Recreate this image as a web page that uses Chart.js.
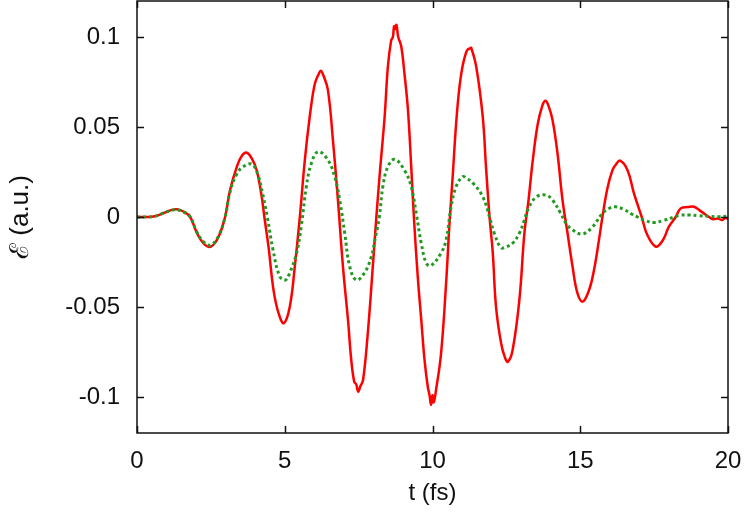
<!DOCTYPE html>
<html>
<head>
<meta charset="utf-8">
<script src="https://cdn.jsdelivr.net/npm/chart.js@4.4.1/dist/chart.umd.min.js"></script>
<style>
    html, body {margin: 0; padding: 0; background: #ffffff;}
    canvas {display: block;}
</style>
</head>
<body>
<canvas id="chart_field" width="747" height="515"></canvas>
<script>
// values: time in fs, field in a.u.
const redTimes = [
    0, 0.3, 0.6, 0.9, 1.15, 1.35, 1.6, 1.8, 2.03, 2.25, 2.5, 2.76, 2.98,
    3.15, 3.38, 3.55, 3.72, 3.9, 4.05, 4.22, 4.31, 4.45, 4.62, 4.8, 4.97,
    5.17, 5.34, 5.51, 5.68, 5.84, 6.01, 6.15, 6.22, 6.3, 6.46, 6.63, 6.8,
    6.97, 7.14, 7.25, 7.35, 7.42, 7.48, 7.56, 7.65, 7.81, 7.98, 8.1, 8.22,
    8.38, 8.49, 8.6, 8.66, 8.7, 8.74, 8.78, 8.84, 8.94, 9.05, 9.17, 9.28,
    9.37, 9.5, 9.62, 9.73, 9.84, 9.9, 9.95, 10.0, 10.04, 10.12, 10.29, 10.46,
    10.57, 10.69, 10.8, 10.91, 11.02, 11.12, 11.19, 11.27, 11.31, 11.48, 11.7, 11.81,
    11.93, 12.04, 12.15, 12.32, 12.45, 12.55, 12.71, 12.94, 13.11, 13.25,
    13.39, 13.56, 13.72, 13.82, 13.92, 14.06, 14.23, 14.4, 14.57, 14.74, 14.9,
    15.08, 15.3, 15.47, 15.64, 15.75, 15.92, 16.09, 16.2, 16.35, 16.6, 16.82,
    17.08, 17.27, 17.56, 17.8, 18.0, 18.23, 18.4, 18.65, 18.85, 19.1, 19.36,
    19.5, 19.65, 19.8, 19.9, 20,
];
const redField = [
    0, 0, 0.0004, 0.0022, 0.0038, 0.0043, 0.0028, 0, -0.009, -0.0146, -0.0165, -0.011, 0,
    0.015, 0.028, 0.034, 0.0357, 0.032, 0.026, 0.0113, 0, -0.0165, -0.0406, -0.054, -0.059,
    -0.0498, -0.0276, 0, 0.0317, 0.055, 0.0735, 0.0795, 0.0813, 0.079, 0.0706, 0.0428, 0.0094,
    -0.0276, -0.0572, -0.0794, -0.0915, -0.093, -0.097, -0.094, -0.0906, -0.0646, -0.0276, 0, 0.025,
    0.0557, 0.0835, 0.098, 0.100, 0.106, 0.1045, 0.1067, 0.100, 0.095, 0.0798, 0.0594, 0.028,
    0, -0.033, -0.0572, -0.0794, -0.0943, -0.099, -0.1044, -0.099, -0.103, -0.0961, -0.0757, -0.0368,
    -0.005, 0.0243, 0.052, 0.072, 0.084, 0.0905, 0.093, 0.0937, 0.094, 0.0835, 0.0557, 0.028,
    0, -0.020, -0.050, -0.070, -0.078, -0.0804, -0.074, -0.046, -0.009, 0.0094,
    0.031, 0.0515, 0.062, 0.0646, 0.062, 0.054, 0.0354, 0.0094, -0.009, -0.0276, -0.042,
    -0.047, -0.0405, -0.029, -0.012, 0, 0.016, 0.026, 0.029, 0.0313, 0.026, 0.013,
    0, -0.010, -0.0165, -0.0128, -0.0054, 0, 0.0048, 0.0055, 0.0057, 0.003, 0,
    -0.0012, -0.0008, -0.0017, -0.0006, -0.001,
];

const greenTimes = [
    0, 0.3, 0.6, 0.9, 1.15, 1.35, 1.6, 1.8, 2.03, 2.25, 2.5, 2.76, 2.98,
    3.15, 3.38, 3.6, 3.89, 4.1, 4.25, 4.41, 4.6, 4.83, 5.02, 5.17, 5.4,
    5.56, 5.73, 5.9, 6.13, 6.46, 6.69, 6.86, 7.03, 7.2, 7.42, 7.7, 7.93,
    8.06, 8.2, 8.32, 8.49, 8.72, 9.05, 9.28, 9.45, 9.62, 9.79, 9.95, 10.29,
    10.46, 10.63, 10.8, 11.02, 11.15, 11.36, 11.7, 11.93, 12.09, 12.32, 12.5,
    12.71, 12.94, 13.11, 13.22, 13.5, 13.84, 14.06, 14.34, 14.52, 14.74, 15.08,
    15.42, 15.75, 16.0, 16.2, 16.5, 16.75, 16.94, 17.2, 17.5, 17.8, 18.18,
    18.4, 18.7, 19.0, 19.4, 19.7, 20,
];
const greenField = [
    0, 0, 0.0004, 0.0022, 0.0037, 0.004, 0.0026, 0, -0.0085, -0.0138, -0.0156, -0.0105, 0,
    0.014, 0.024, 0.028, 0.0293, 0.023, 0.013, 0, -0.018, -0.033, -0.035, -0.031, -0.020,
    -0.005, 0.0169, 0.0298, 0.0363, 0.0317, 0.0224, 0.0094, -0.009, -0.0276, -0.035, -0.031, -0.022,
    -0.012, 0, 0.0169, 0.028, 0.032, 0.026, 0.0169, 0.002, -0.0146, -0.0257, -0.027, -0.020,
    -0.0128, 0.0057, 0.0169, 0.0224, 0.0215, 0.019, 0.0113, 0, -0.009, -0.017, -0.0165,
    -0.0146, -0.009, -0.0017, 0.0039, 0.011, 0.0122, 0.0094, 0.002, -0.0035, -0.0072, -0.0094,
    -0.0054, 0.002, 0.005, 0.0057, 0.004, 0.0015, 0, -0.002, -0.0031, -0.002, 0,
    0.001, 0.0011, 0.0008, 0.0003, 0.0001, 0.0005,
];

const xTicks = [0, 5, 10, 15, 20];
const yTicks = [-0.1, -0.05, 0, 0.05, 0.1];
const yTickLabels = ['-0.1', '-0.05', '0', '0.05', '0.1'];

const FONT = "'Liberation Sans', Arial, sans-serif";
const INK = '#111111';

// frame and inward tick marks on all four sides, like the original plot
const framePlugin = {
    id: 'frame',
    afterDatasetsDraw(chart) {
        const {ctx, chartArea: a, scales} = chart;
        const len = 7;
        ctx.save();
        ctx.strokeStyle = INK;
        ctx.lineWidth = 1.5;
        ctx.strokeRect(a.left, a.top, a.right - a.left, a.bottom - a.top);
        ctx.beginPath();
        xTicks.forEach(v => {
            const px = Math.round(scales.x.getPixelForValue(v)) + 0.5;
            ctx.moveTo(px, a.bottom);
            ctx.lineTo(px, a.bottom - len);
            ctx.moveTo(px, a.top);
            ctx.lineTo(px, a.top + len);
        });
        yTicks.forEach(v => {
            const py = Math.round(scales.y.getPixelForValue(v)) + 0.5;
            ctx.moveTo(a.left, py);
            ctx.lineTo(a.left + len, py);
            ctx.moveTo(a.right, py);
            ctx.lineTo(a.right - len, py);
        });
        ctx.stroke();
        ctx.restore();
    },
};

function noEdgePadding(scale) {
    scale.paddingTop = 0;
    scale.paddingBottom = 0;
    scale.paddingLeft = 0;
    scale.paddingRight = 0;
}

new Chart(document.getElementById('chart_field'), {
    type   : 'line',
    data   : {
        datasets: [{
            data       : redTimes.map((t, i) => ({x: t, y: redField[i]})),
            borderColor: '#ff0000',
            borderWidth: 2.5,
            pointRadius: 0,
            tension    : 0.4,
            order      : 2,
        }, {
            data       : greenTimes.map((t, i) => ({x: t, y: greenField[i]})),
            borderColor: '#229a22',
            borderWidth: 3,
            borderDash : [3, 3],
            pointRadius: 0,
            tension    : 0.4,
            order      : 1,
        }],
    },
    options: {
        responsive         : false,
        animation          : false,
        devicePixelRatio   : 1,
        layout             : {padding: {left: 0, right: 19, top: 1, bottom: 0}},
        plugins            : {
            legend : {display: false},
            tooltip: {enabled: false},
        },
        scales             : {
            x: {
                type       : 'linear',
                min        : 0,
                max        : 20,
                grid       : {display: false, drawTicks: false},
                border     : {display: false},
                afterBuildTicks: scale => { scale.ticks = xTicks.map(v => ({value: v})); },
                afterFit   : scale => { scale.height = 82; noEdgePadding(scale); },
                ticks      : {
                    color    : INK,
                    font     : {family: FONT, size: 24},
                    padding  : 14,
                    maxRotation: 0,
                    callback : v => String(v),
                },
                title      : {
                    display: true,
                    text   : 't (fs)',
                    color  : INK,
                    font   : {family: FONT, size: 24},
                    padding: {top: 0, bottom: 7},
                },
            },
            y: {
                type       : 'linear',
                min        : -0.12,
                max        : 0.12,
                grid       : {display: false, drawTicks: false},
                border     : {display: false},
                afterBuildTicks: scale => { scale.ticks = yTicks.map(v => ({value: v})); },
                afterFit   : scale => { scale.width = 137; noEdgePadding(scale); },
                ticks      : {
                    color   : INK,
                    font    : {family: FONT, size: 24},
                    padding : 17,
                    callback: v => yTickLabels[yTicks.indexOf(v)],
                },
                title      : {
                    display: true,
                    text   : '\u2130 (a.u.)',
                    color  : INK,
                    font   : {family: FONT, size: 26},
                    padding: {top: 5, bottom: 0},
                },
            },
        },
    },
    plugins: [framePlugin],
});
</script>
</body>
</html>
